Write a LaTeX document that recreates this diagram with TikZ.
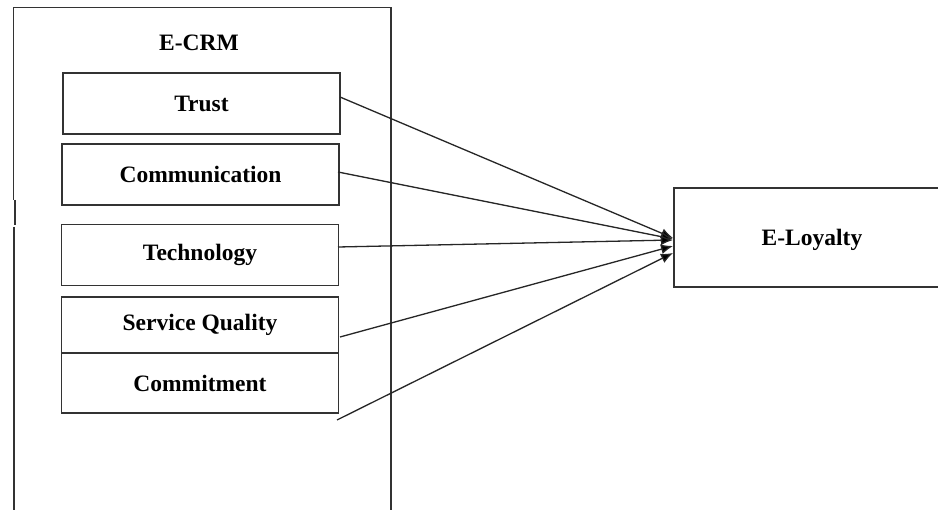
\documentclass[tikz,border=0pt]{standalone}
\usepackage{fontspec}
\setmainfont{Liberation Serif}
\usetikzlibrary{arrows.meta}
\begin{document}
\begin{tikzpicture}[x=1pt,y=-1pt,
  line/.style={draw=black!80,line width=1.3pt},
  itembox/.style={line,rectangle,minimum width=277pt,minimum height=61pt,inner sep=0pt,
    font=\fontsize{23.5}{26}\selectfont\bfseries},
  lbl/.style={font=\fontsize{23.5}{26}\selectfont\bfseries,inner sep=0pt},
  conn/.style={draw=black!85,line width=1.3pt,-{Latex[length=12pt,width=10pt,fill=black]}}]
\useasboundingbox (0,0) rectangle (938,510);
\clip (0,0) rectangle (938,510);
\fill[white] (0,0) rectangle (938,510);
% outer E-CRM frame
\draw[line] (13.5,200) -- (13.5,7.5) -- (391,7.5) -- (391,520);
\draw[line] (15,200) -- (15,225);
\draw[line] (14,227) -- (14,520);
\node[lbl] (ecrm) at (199,43) {E-CRM};
% items
\node[itembox] (trust) at (201.5,103.5) {Trust};
\node[itembox] (comm) at (200.5,174.5) {Communication};
\node[itembox] (tech) at (200,255) {Technology};
\node[itembox,minimum height=56pt] (serv) at (200,325) {Service Quality};
\node[itembox,minimum height=60pt] (commit) at (200,383) {Commitment};
% E-Loyalty
\node[line,rectangle,minimum width=276pt,minimum height=99pt,inner sep=0pt] (eloy) at (812,237.5) {};
\node[lbl] (eloytext) at (812,240) {E-Loyalty};
% arrow endpoints
\coordinate (s1) at (340,97);
\coordinate (s2) at (338,172);
\coordinate (s3) at (338,247);
\coordinate (s4) at (340,337);
\coordinate (s5) at (337,420);
\coordinate (e1) at (673,238);
\coordinate (e2) at (673,239);
\coordinate (e3) at (673,240);
\coordinate (e4) at (673,246);
\coordinate (e5) at (673,253);
\draw[conn] (s1) -- (e1);
\draw[conn] (s2) -- (e2);
\draw[conn] (s3) -- (e3);
\draw[conn] (s4) -- (e4);
\draw[conn] (s5) -- (e5);
\end{tikzpicture}
\end{document}
